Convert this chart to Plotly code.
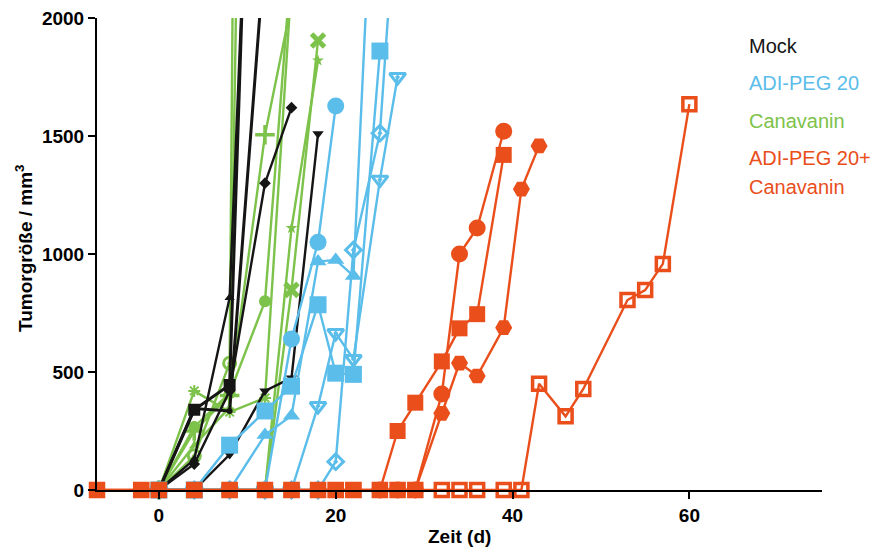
import plotly.graph_objects as go

# ---------------- data ----------------
# Mock (black)
mock1_d = [0, 4, 8, 12];            mock1_v = [0, 340, 445, 5000]
mock2_d = [0, 4, 8, 12];            mock2_v = [0, 130, 815, 4500]
mock3_d = [0, 4, 8, 12];            mock3_v = [0, 345, 335, 2300]
mock4_d = [0, 4, 8, 12, 15];        mock4_v = [0, 110, 420, 1300, 1620]
mock5_d = [0, 4, 8, 12, 15, 18];    mock5_v = [0, 0, 150, 420, 475, 1510]

# Canavanin (green)
can1_d = [0, 4, 8, 9];              can1_v = [0, 145, 537, 5000]
can2_d = [0, 4, 8, 12, 15];         can2_v = [0, 267, 410, 800, 2240]
can3_d = [0, 4, 8, 12, 15];         can3_v = [0, 250, 400, 1505, 2060]
can4_d = [0, 4, 8, 12, 15, 18];     can4_v = [0, 0, 0, 0, 848, 1905]
can5_d = [0, 4, 8, 12, 15, 18];     can5_v = [0, 0, 0, 0, 1110, 1820]
can6_d = [0, 4, 8, 12, 15];         can6_v = [0, 420, 330, 390, 2150]
can7_d = [0, 4, 8, 10];             can7_v = [0, 190, 350, 5000]

# ADI-PEG 20 (blue)
adi1_d = [0, 4, 8, 12, 15, 18, 20];             adi1_v = [0, 0, 0, 0, 640, 1050, 1627]
adi2_d = [0, 4, 8, 12, 15, 18, 20, 22, 25];     adi2_v = [0, 0, 190, 335, 440, 785, 495, 490, 1860]
adi3_d = [0, 4, 8, 12, 15, 18, 20, 22, 25];     adi3_v = [0, 0, 0, 233, 315, 968, 975, 907, 3300]
adi4_d = [0, 4, 8, 12, 15, 18, 20, 22, 25, 27]; adi4_v = [0, 0, 0, 0, 0, 0, 120, 1017, 1512, 2600]
adi5_d = [0, 4, 8, 12, 15, 18, 20, 22, 25, 27]; adi5_v = [0, 0, 0, 0, 0, 356, 665, 555, 1315, 1750]

# ADI-PEG 20 + Canavanin (orange)
combo1_d = [-7, -2, 0, 4, 8, 12, 15, 18, 20, 22, 25, 27, 29, 32, 34, 36, 39]
combo1_v = [0, 0, 0, 0, 0, 0, 0, 0, 0, 0, 0, 250, 370, 545, 685, 745, 1420]
combo2_d = [25, 27, 29, 32, 34, 36, 39]
combo2_v = [0, 0, 0, 407, 1000, 1110, 1520]
combo3_d = [25, 27, 29, 32, 34, 36, 39, 41, 43]
combo3_v = [0, 0, 0, 325, 538, 483, 688, 1275, 1458]
combo4_d = [-7, -2, 0, 4, 8, 12, 15, 18, 20, 22, 25, 27, 29, 32, 34, 36, 39, 41,
            43, 46, 48, 53, 55, 57, 60]
combo4_v = [0, 0, 0, 0, 0, 0, 0, 0, 0, 0, 0, 0, 0, 0, 0, 0, 0, 0,
            450, 312, 428, 805, 847, 958, 1635]

legend_lines = ["Mock", "ADI-PEG 20", "Canavanin", "ADI-PEG 20+", "Canavanin"]

# ---------------- style ----------------
BLACK = "#151515"
BLUE = "#5BBDEA"
GREEN = "#7DC24A"
ORANGE = "#E94E1B"
FONT = "Liberation Sans"

fig = go.Figure()


def add(d, v, color, symbol, size, lw=2.4, mlw=0):
    fig.add_trace(go.Scatter(
        x=d, y=v, mode="lines+markers",
        line=dict(color=color, width=lw),
        marker=dict(symbol=symbol, size=size, color=color,
                    line=dict(color=color, width=mlw)),
        cliponaxis=False, showlegend=False, hoverinfo="skip"))


# green
add(can7_d, can7_v, GREEN, "star-triangle-up", 9)
add(can6_d, can6_v, GREEN, "asterisk-open", 10, mlw=2)
add(can1_d, can1_v, GREEN, "circle-open-dot", 12, mlw=3)
add(can2_d, can2_v, GREEN, "circle", 12)
add(can3_d, can3_v, GREEN, "cross-thin-open", 14, mlw=3.5)
add(can4_d, can4_v, GREEN, "x-thin-open", 13, mlw=5)
add(can5_d, can5_v, GREEN, "star", 9)
# black
add(mock3_d, mock3_v, BLACK, "circle", 6, lw=3)
add(mock1_d, mock1_v, BLACK, "square", 12, lw=3)
add(mock2_d, mock2_v, BLACK, "triangle-up", 9)
add(mock4_d, mock4_v, BLACK, "diamond", 9)
add(mock5_d, mock5_v, BLACK, "triangle-down", 10)
# blue
add(adi4_d, adi4_v, BLUE, "diamond-open-dot", 12, mlw=3)
add(adi5_d, adi5_v, BLUE, "triangle-down-open-dot", 14, mlw=3)
add(adi3_d, adi3_v, BLUE, "triangle-up", 15)
add(adi2_d, adi2_v, BLUE, "square", 17)
add(adi1_d, adi1_v, BLUE, "circle", 17)
# orange
combo4_sym = ["square" if d <= 29 else "square-open" for d in combo4_d]
fig.add_trace(go.Scatter(
    x=combo4_d, y=combo4_v, mode="lines+markers",
    line=dict(color=ORANGE, width=2.4),
    marker=dict(symbol=combo4_sym, size=13, color=ORANGE,
                line=dict(color=ORANGE, width=3.5)),
    cliponaxis=False, showlegend=False, hoverinfo="skip"))
add(combo2_d, combo2_v, ORANGE, "circle", 17)
add(combo3_d, combo3_v, ORANGE, "hexagon2", 17)
add(combo1_d, combo1_v, ORANGE, "square", 16)

# ---------------- annotations (legend text + axis titles) ----------------
legend_colors = [BLACK, BLUE, GREEN, ORANGE, ORANGE]
legend_y = [0.9417, 0.8623, 0.7818, 0.7034, 0.642]
for lab, col, yy in zip(legend_lines, legend_colors, legend_y):
    fig.add_annotation(x=0.897, y=yy, xref="paper", yref="paper",
                       text=lab, showarrow=False, xanchor="left", yanchor="middle",
                       align="left",
                       font=dict(family=FONT, size=20, color=col))

fig.add_annotation(x=-0.1007, y=0.5127, xref="paper", yref="paper",
                   text="Tumorgröße / mm<sup>3</sup>", textangle=-90, showarrow=False,
                   xanchor="center", yanchor="middle",
                   font=dict(family=FONT, size=19, color="black", weight="bold"))
fig.add_annotation(x=0.5, y=-0.099, xref="paper", yref="paper",
                   text="Zeit (d)", showarrow=False,
                   xanchor="center", yanchor="middle",
                   font=dict(family=FONT, size=19, color="black", weight="bold"))

axis_common = dict(showgrid=False, zeroline=False, showline=True, linecolor="black",
                   linewidth=2, ticks="outside", tickwidth=2, tickcolor="black",
                   ticklen=7, ticklabeloverflow="allow",
                   tickfont=dict(family=FONT, size=19, color="black", weight="bold"))

# page body has an 8px margin, so the figure is 8px smaller on each side
fig.update_layout(
    width=875, height=541,
    margin=dict(l=89, r=61, t=10, b=59, autoexpand=False),
    paper_bgcolor="white", plot_bgcolor="white",
    xaxis=dict(range=[-7, 75], tickvals=[0, 20, 40, 60], **axis_common),
    yaxis=dict(range=[0, 2000], tickvals=[0, 500, 1000, 1500, 2000], **axis_common),
)

fig.write_html("out.html")
